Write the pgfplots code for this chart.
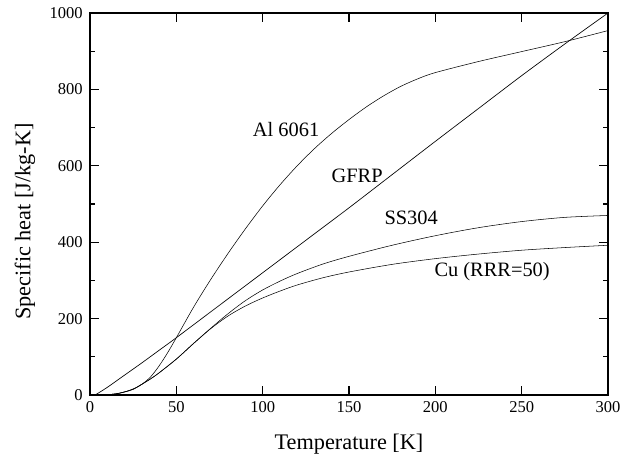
\documentclass[border=0pt]{standalone}
\usepackage{fontspec}
\setmainfont{Liberation Serif}
\usepackage{pgfplots}
\pgfplotsset{compat=1.18}
\begin{document}
\begin{tikzpicture}[x=0.75pt,y=0.75pt]
\begin{axis}[
  at={(0,0)}, anchor=south west,
  scale only axis,
  width=388.5pt, height=286.5pt,
  xmin=0, xmax=300, ymin=0, ymax=1000,
  xtick={0,50,...,300}, ytick={0,200,...,1000},
  minor y tick num=1,
  tick align=inside,
  major tick length=7pt, minor tick length=4pt,
  axis line style={line width=1.3pt},
  every tick/.style={line width=0.9pt, black},
  /pgf/number format/assume math mode=true,
  /pgf/number format/1000 sep={},
  tick label style={font=\rmfamily\fontsize{12.4}{14}\selectfont},
  xticklabel style={yshift=-1pt},
  yticklabel style={xshift=-2pt},
  label style={font=\rmfamily\fontsize{16.7}{19}\selectfont},
  xlabel={Temperature [K]},
  ylabel={Specific heat [J/kg-K]},
  xlabel style={at={(axis description cs:0.5,-0.128)}, anchor=center},
  ylabel style={at={(axis description cs:-0.1255,0.454)}, anchor=center},
  clip=false,
  cycle list={{black, line width=0.5pt, mark=none}},
]
% Al 6061
\addplot+[smooth] coordinates {(5,0) (10,1) (15,3) (20,8) (25,16) (30,28) (35,47) (40,76) (45,111) (50,150) (60,230) (70,303) (80,371) (90,435) (100,495) (110,550) (120,600) (130,645) (140,685) (150,721) (160,754) (170,783) (180,808) (190,828) (200,844) (225,873) (250,899) (275,925) (300,954)};
% GFRP
\addplot+[smooth] coordinates {(3,0) (10,20) (20,52) (30,84) (40,117) (50,150) (75,235) (100,320) (125,405) (150,490) (175,577) (200,664) (225,750) (250,836) (275,919) (300,1000)};
% SS304
\addplot+[smooth] coordinates {(3,0) (10,1) (15,3) (20,8) (25,15) (30,28) (35,42) (40,58) (50,94) (60,135) (70,175) (80,213) (90,247) (100,275) (110,298) (120,318) (135,343) (150,363) (175,392) (200,417) (225,438) (250,454) (275,465) (300,470)};
% Cu (RRR=50)
\addplot+[smooth] coordinates {(3,0) (10,1) (15,3) (20,8) (25,15) (30,28) (35,42) (40,58) (50,94) (60,135) (70,174) (80,207) (90,233) (100,254) (110,272) (120,288) (135,307) (150,322) (175,342) (200,357) (225,369) (250,379) (275,386) (300,392)};
\node[font=\rmfamily\fontsize{15.3}{17}\selectfont] at (axis cs:113.6,694) {Al 6061};
\node[font=\rmfamily\fontsize{15.3}{17}\selectfont] at (axis cs:154.7,574) {GFRP};
\node[font=\rmfamily\fontsize{15.3}{17}\selectfont] at (axis cs:186,464) {SS304};
\node[font=\rmfamily\fontsize{15.3}{17}\selectfont] at (axis cs:232.9,323) {Cu (RRR=50)};
\end{axis}
\pgfresetboundingbox
\path (-90,-67) rectangle (546,395);
\end{tikzpicture}
\end{document}
